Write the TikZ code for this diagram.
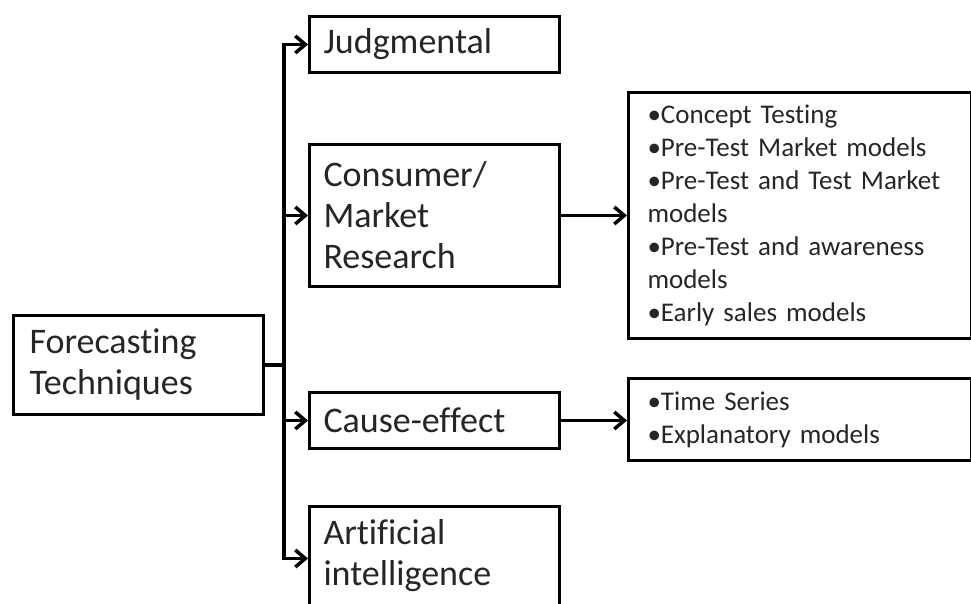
\documentclass[tikz,border=0pt]{standalone}
\usepackage{fontspec}
\setmainfont[Ligatures={NoCommon}]{Carlito}
\usetikzlibrary{arrows.meta}
\definecolor{txt}{HTML}{262626}
\DeclareRobustCommand\bigtxt{\fontsize{36}{41}\selectfont\spaceskip=0.22em plus 0.05em minus 0.05em\relax}
\DeclareRobustCommand\smalltxt{\fontsize{27}{33}\selectfont\spaceskip=0.2em plus 0.05em minus 0.05em\relax}
\tikzset{
  box/.style={draw=black, line width=3pt, anchor=north west, inner ysep=0pt,
    align=left, text=txt, font=\bigtxt},
  listbox/.style={draw=black, line width=3pt, anchor=north west, inner ysep=0pt,
    align=left, text=txt, font=\smalltxt},
  conn/.style={draw=black, line width=3.5pt},
  arr/.style={conn, -{Straight Barb[length=10pt,width=17pt,line width=3.5pt]}}
}
\begin{document}
\begin{tikzpicture}[x=1pt,y=-1pt]
\useasboundingbox (0,0) rectangle (971,603);
\clip (0,0) rectangle (971,603);
\node[box, inner xsep=16pt, text width=218pt, minimum height=99pt] (FT) at (12,314) {Forecasting\\Techniques};
\node[box, inner xsep=14pt, text width=222pt, minimum height=56pt] (J) at (308,15) {Judgmental};
\node[box, inner xsep=14pt, text width=222pt, minimum height=142pt] (C) at (308,143) {Consumer/\\Market\\Research};
\node[box, inner xsep=14pt, text width=222pt, minimum height=56pt] (CE) at (308,391) {Cause-effect};
\node[box, inner xsep=14pt, text width=222pt, minimum height=99pt] (AI) at (308,505) {Artificial\\intelligence};
\node[listbox, inner xsep=19pt, text width=305pt, minimum height=246pt] (L1) at (627,91)
  {•Concept Testing\\•Pre-Test Market models\\•Pre-Test and Test Market\\models\\•Pre-Test and awareness\\models\\•Early sales models};
\node[listbox, inner xsep=19pt, text width=305pt, minimum height=82pt] (L2) at (627,377)
  {•Time Series\\•Explanatory models};
\coordinate (jn) at (284,365);
\draw[conn] (FT.east |- jn) -- (jn);
\draw[arr] (jn) |- (J.west);
\draw[arr] (jn) |- (C.west);
\draw[arr] (jn) |- (CE.west);
\draw[arr] (jn) |- ([yshift=-2.5pt]AI.west);
\draw[arr] (C.east) -- (C.east -| L1.west);
\draw[arr] (CE.east) -- (CE.east -| L2.west);
\end{tikzpicture}
\end{document}
